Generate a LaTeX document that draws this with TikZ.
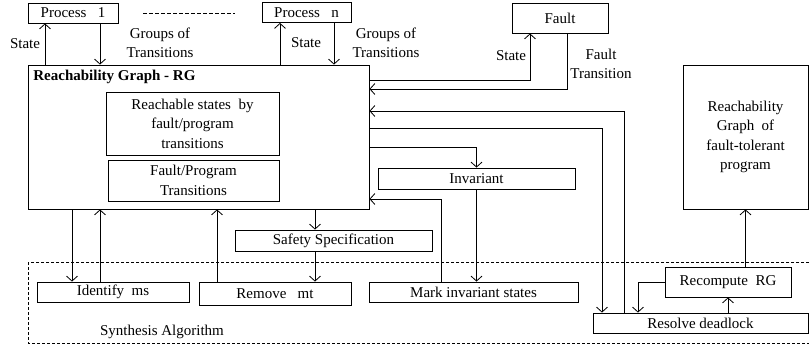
\documentclass[tikz,border=0pt]{standalone}
\usepackage{fontspec}
\setmainfont{Liberation Serif}
\usetikzlibrary{arrows.meta}

\begin{document}
\begin{tikzpicture}[x=1pt,y=-1pt,line width=0.8pt,
  >={Straight Barb[length=5pt,width=11pt]},
  font=\fontsize{15}{19.5}\selectfont,
  box/.style={draw,rectangle,inner sep=0pt,align=center},
  lbl/.style={inner sep=0pt,align=center}]
\useasboundingbox (0,0) rectangle (809,349);

% processes and fault
\node[box,minimum width=90pt,minimum height=20pt] (p1) at (73,13) {Process\ \ \ 1};
\draw[dash pattern=on 4pt off 2pt] (143,13) -- (235,13);
\node[box,minimum width=89pt,minimum height=20pt] (pn) at (306.5,12.5) {Process\ \ \ n};
\node[box,minimum width=96pt,minimum height=30pt] (fault) at (560,18) {Fault};

% reachability graph
\node[box,minimum width=341pt,minimum height=144pt] (rg) at (198.5,137) {};
\node[lbl,anchor=west] (rgtitle) at (33,77) {\textbf{Reachability Graph - RG}};
\node[box,minimum width=173pt,minimum height=63pt] (reach) at (192.5,123.5) {Reachable states\ \ by\\fault/program\\transitions};
\node[box,minimum width=171pt,minimum height=41pt] (fpt) at (193.5,180.5) {Fault/Program\\Transitions};

\node[box,minimum width=197pt,minimum height=21pt] (inv) at (476.5,178.5) {Invariant};
\node[box,minimum width=197pt,minimum height=21pt] (safety) at (333.5,240.5) {Safety Specification};
\node[box,minimum width=125pt,minimum height=144pt] (rgft) at (745.5,137) {Reachability\\Graph\ \ of\\fault-tolerant\\program};

% synthesis algorithm
\draw[dash pattern=on 3pt off 2pt] (28,262) rectangle (820,343);
\node[lbl] (synlbl) at (162,332) {Synthesis Algorithm};
\node[box,minimum width=152pt,minimum height=20pt] (ident) at (113,292) {Identify\ \ ms};
\node[box,minimum width=152pt,minimum height=23pt] (remove) at (275,293.5) {Remove\ \ \ mt};
\node[box,minimum width=209pt,minimum height=20pt] (mark) at (473.5,292) {Mark invariant states};
\node[box,minimum width=126pt,minimum height=30pt] (recomp) at (728,282) {Recompute\ \ RG};
\node[box,minimum width=215pt,minimum height=20pt] (resolve) at (700.5,323) {Resolve deadlock};

% labels
\node[lbl] (st1) at (25,44) {State};
\node[lbl] (gr1) at (160,43) {Groups of\\Transitions};
\node[lbl] (stn) at (306,43) {State};
\node[lbl] (grn) at (386,43) {Groups of\\Transitions};
\node[lbl] (stf) at (511,56) {State};
\node[lbl] (ftr) at (601,64) {Fault\\Transition};

% process links
\draw[->] (rg.north -| 45,0) -- (p1.south -| 45,0);
\draw[->] (p1.south -| 100,0) -- (rg.north -| 100,0);
\draw[->] (rg.north -| 280,0) -- (pn.south -| 280,0);
\draw[->] (pn.south -| 334,0) -- (rg.north -| 334,0);
\draw[->] (rg.east |- 0,80) -| (fault.south -| 530,0);
\draw[->] (fault.south -| 567,0) |- (rg.east |- 0,89);

% right side links
\draw[->] (resolve.north -| 624,0) |- (rg.east |- 0,111);
\draw[->] (rg.east |- 0,128) -| (resolve.north -| 602,0);
\draw[->] (rg.east |- 0,147) -| (inv.north);
\draw[->] (mark.north -| 441,0) |- (rg.east |- 0,199);
\draw[->] (inv.south) -- (mark.north -| inv.south);

% bottom links
\draw[->] (rg.south -| 315,0) -- (safety.north -| 315,0);
\draw[->] (safety.south -| 315,0) -- (remove.north -| 315,0);
\draw[->] (rg.south -| 72,0) -- (ident.north -| 72,0);
\draw[->] (ident.north -| 100,0) -- (rg.south -| 100,0);
\draw[->] (remove.north -| 217,0) -- (rg.south -| 217,0);

% deadlock loop
\draw[->] (recomp.west) -| (resolve.north -| 638,0);
\draw[->] (resolve.north -| recomp.south) -- (recomp.south);
\draw[->] (recomp.north -| rgft.south) -- (rgft.south);
\end{tikzpicture}
\end{document}
